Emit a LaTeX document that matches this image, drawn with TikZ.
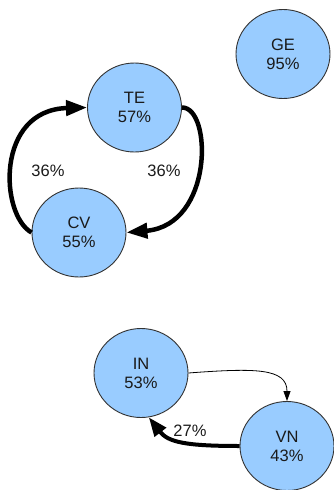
\documentclass[tikz,border=0pt]{standalone}
\usepackage{fontspec}
\setmainfont{Liberation Sans}
\usetikzlibrary{arrows.meta,shapes.geometric}
\definecolor{nodefill}{HTML}{99CCFF}
\definecolor{nodeline}{HTML}{333333}
\definecolor{txt}{HTML}{1A1A1A}
\begin{document}
\begin{tikzpicture}[x=1pt,y=-1pt,
  state/.style={ellipse, draw=nodeline, line width=0.9pt, fill=nodefill,
    minimum width=94pt, minimum height=89pt, inner sep=0pt, align=center,
    text=txt, font=\fontsize{16.5}{19}\selectfont},
  heavy/.style={line width=4.5pt, -{Triangle[length=21pt,width=15pt]}},
  medium/.style={line width=4pt, -{Triangle[length=19pt,width=14pt]}},
  light/.style={line width=0.8pt, -{Triangle[length=10pt,width=7pt]}},
  lbl/.style={text=txt, font=\fontsize{16.5}{19}\selectfont, inner sep=0pt}]
\useasboundingbox (0,0) rectangle (334,490);
\node[state] (ge) at (283,54) {GE\\95\%};
\node[state] (te) at (134.5,107.5) {TE\\57\%};
\node[state] (cv) at (79,232.5) {CV\\55\%};
\node[state] (in) at (141,373) {IN\\53\%};
\node[state] (vn) at (287,446) {VN\\43\%};
\draw[heavy] (cv.west) .. controls (0,215) and (-5,110) .. (te.west);
\draw[heavy] (te.east) .. controls (212,107) and (214,225) .. (cv.east);
\draw[light] (in.east) .. controls (255,368) and (287,368) .. (vn.north);
\draw[medium] (vn.west) .. controls (185,446) and (168,442) .. (in.-80);
\node[lbl] (l1) at (48,171) {36\%};
\node[lbl] (l2) at (164,171) {36\%};
\node[lbl] (l3) at (190,431) {27\%};
\end{tikzpicture}
\end{document}
